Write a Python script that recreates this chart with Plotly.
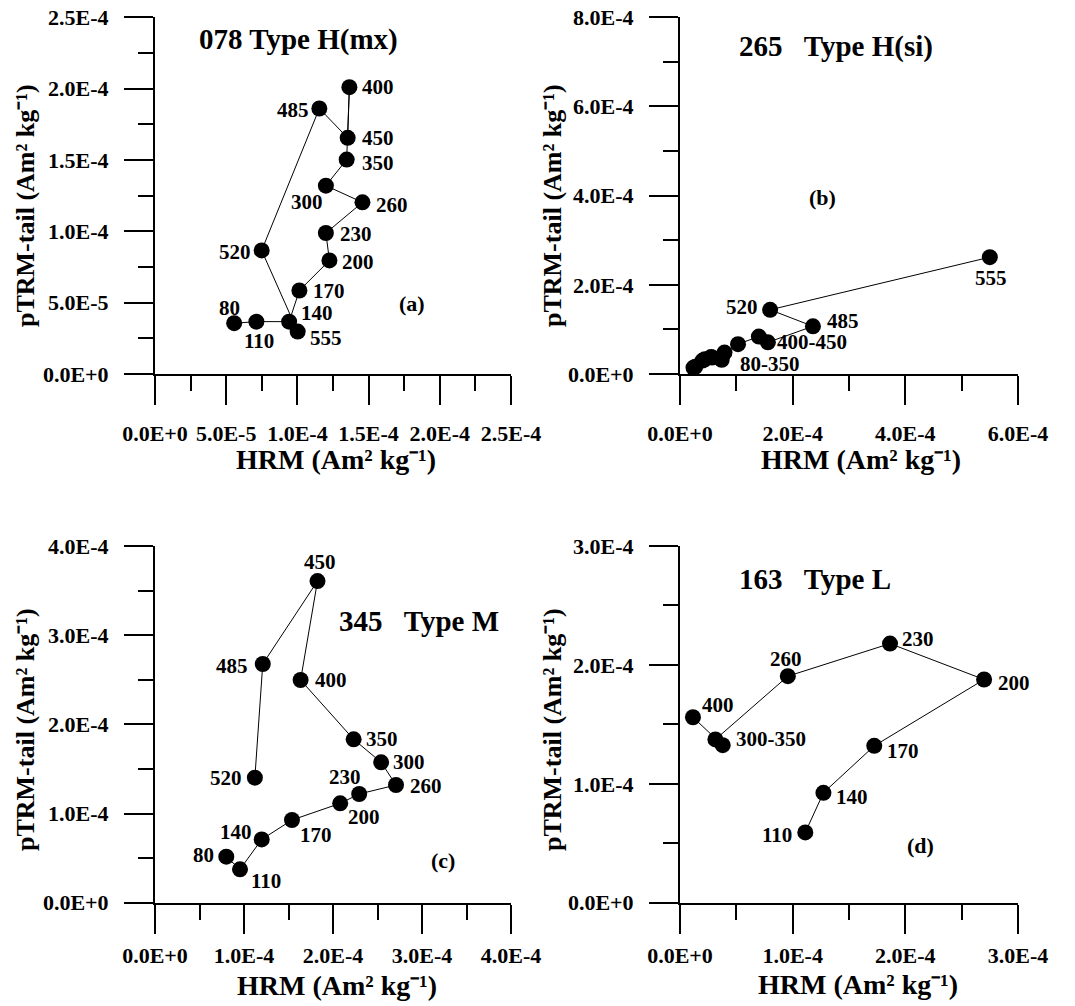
import plotly.graph_objects as go

FONT = "Liberation Serif, Times New Roman, serif"
W, H = 1075, 1006

# ---------------- DATA ----------------
# Panel (a): sample 078, Type H(mx)
a_temps = ["80", "110", "140", "170", "200", "230", "260", "300", "350", "400", "450", "485", "520", "555"]
a_hrm = [55.6e-6, 71.2e-6, 94.2e-6, 101.4e-6, 122.5e-6, 120.0e-6, 145.7e-6, 120.0e-6, 134.6e-6, 136.5e-6, 135.3e-6, 115.4e-6, 74.9e-6, 100.2e-6]
a_ptrm = [35.6e-6, 36.7e-6, 36.7e-6, 58.5e-6, 79.6e-6, 98.8e-6, 120.3e-6, 132.0e-6, 150.3e-6, 201.0e-6, 165.5e-6, 186.1e-6, 86.6e-6, 29.7e-6]
a_label_text = ["80", "110", "140", "170", "200", "230", "260", "300", "350", "400", "450", "485", "520", "555"]
a_label_idx = [0, 1, 2, 3, 4, 5, 6, 7, 8, 9, 10, 11, 12, 13]
a_tickvals = [0, 5e-5, 1e-4, 1.5e-4, 2e-4, 2.5e-4]
a_ticktext = ["0.0E+0", "5.0E-5", "1.0E-4", "1.5E-4", "2.0E-4", "2.5E-4"]

# Panel (b): sample 265, Type H(si)
b_temps = ["80", "110", "140", "170", "200", "230", "260", "300", "350", "400", "450", "485", "520", "555"]
b_hrm = [24e-6, 27e-6, 40e-6, 44e-6, 55e-6, 57e-6, 74e-6, 79e-6, 103e-6, 140e-6, 156e-6, 236e-6, 160e-6, 550e-6]
b_ptrm = [14e-6, 16e-6, 30e-6, 33e-6, 38e-6, 37e-6, 32e-6, 48e-6, 67e-6, 84e-6, 71e-6, 107e-6, 144e-6, 262e-6]
b_label_text = ["80-350", "400-450", "485", "520", "555"]
b_label_idx = [6, 10, 11, 12, 13]
b_xtickvals = [0, 2e-4, 4e-4, 6e-4]
b_xticktext = ["0.0E+0", "2.0E-4", "4.0E-4", "6.0E-4"]
b_ytickvals = [0, 2e-4, 4e-4, 6e-4, 8e-4]
b_yticktext = ["0.0E+0", "2.0E-4", "4.0E-4", "6.0E-4", "8.0E-4"]

# Panel (c): sample 345, Type M
c_temps = ["80", "110", "140", "170", "200", "230", "260", "300", "350", "400", "450", "485", "520"]
c_hrm = [80.1e-6, 95.5e-6, 119.9e-6, 153.9e-6, 208.1e-6, 229.4e-6, 270.8e-6, 254.1e-6, 223.2e-6, 163.6e-6, 182.6e-6, 121.1e-6, 112.2e-6]
c_ptrm = [51.6e-6, 37.4e-6, 71.0e-6, 92.7e-6, 111.4e-6, 121.9e-6, 132.0e-6, 157.4e-6, 183.2e-6, 249.7e-6, 360.7e-6, 267.7e-6, 140.2e-6]
c_label_text = ["80", "110", "140", "170", "200", "230", "260", "300", "350", "400", "450", "485", "520"]
c_label_idx = [0, 1, 2, 3, 4, 5, 6, 7, 8, 9, 10, 11, 12]
c_tickvals = [0, 1e-4, 2e-4, 3e-4, 4e-4]
c_ticktext = ["0.0E+0", "1.0E-4", "2.0E-4", "3.0E-4", "4.0E-4"]

# Panel (d): sample 163, Type L
d_temps = ["110", "140", "170", "200", "230", "260", "300", "350", "400"]
d_hrm = [111.2e-6, 127.3e-6, 172.4e-6, 269.9e-6, 186.4e-6, 95.7e-6, 31.4e-6, 37.9e-6, 11.5e-6]
d_ptrm = [59.1e-6, 92.4e-6, 131.9e-6, 187.7e-6, 217.9e-6, 190.5e-6, 137.3e-6, 132.5e-6, 156.0e-6]
d_label_text = ["110", "140", "170", "200", "230", "260", "300-350", "400"]
d_label_idx = [0, 1, 2, 3, 4, 5, 7, 8]
d_tickvals = [0, 1e-4, 2e-4, 3e-4]
d_ticktext = ["0.0E+0", "1.0E-4", "2.0E-4", "3.0E-4"]

titles = ["078 Type H(mx)", "265\u00a0\u00a0 Type H(si)", "345\u00a0\u00a0 Type M", "163\u00a0\u00a0 Type L"]
panel_tags = ["(a)", "(b)", "(c)", "(d)"]
x_title = "HRM (Am\u00b2 kg\u207b\u00b9)"
y_title = "pTRM-tail (Am\u00b2 kg\u207b\u00b9)"

# ---------------- STYLE / LAYOUT ----------------
# label placement: (anchor, dx px, dy px [down positive])
a_label_pos = [("center", -5, -15), ("center", 3, 19), ("left", 10, -9), ("left", 12, 0), ("left", 11, 2),
               ("left", 12, 1), ("left", 12, 3), ("center", -19, 16), ("left", 13, 3), ("left", 11, 0),
               ("left", 12, 0), ("right", -8, 2), ("right", -9, 2), ("left", 10, 6)]
b_label_pos = [("left", 16, 4), ("left", 7, 0), ("left", 12, -5), ("right", -10, -3), ("center", 1, 21)]
c_label_pos = [("right", -10, -2), ("left", 9, 12), ("right", -8, -7), ("left", 6, 15), ("left", 6, 14),
               ("center", -14, -17), ("left", 12, 1), ("left", 10, 0), ("left", 10, 0), ("left", 12, 0),
               ("center", 2, -19), ("right", -13, 2), ("right", -11, 0)]
d_label_pos = [("right", -11, 3), ("left", 11, 4), ("left", 11, 5), ("left", 12, 3), ("left", 10, -5),
               ("center", -2, -17), ("left", 11, -6), ("left", 7, -12)]

# plot boxes in pixels: (left, right, top, bottom)
boxes = [(155, 511, 17.3, 374), (680, 1018, 17.3, 374), (155, 511, 546, 902.7), (680, 1018, 546, 902.7)]
title_pos = [(298, 40), (836, 47), (419, 621), (815, 579)]
tag_pos = [(412, 303), (822, 197), (443, 860), (920, 845)]
xtitle_pos = [(336, 459), (861, 459), (337, 985), (858, 984)]
ytitle_pos = [(25, 206), (552, 206), (25, 730), (552, 730)]
x_standoff = [10, 10, 3, 3]
y_standoff = [11, 11, 11, 11]

TICK_FS = 22
LBL_FS = 21
TITLE_FS = 29
XT_FS = 28
YT_FS = 26
TAG_FS = 22

panels = [
    (a_hrm, a_ptrm, a_label_text, a_label_idx, a_label_pos, a_tickvals, a_ticktext, a_tickvals, a_ticktext),
    (b_hrm, b_ptrm, b_label_text, b_label_idx, b_label_pos, b_xtickvals, b_xticktext, b_ytickvals, b_yticktext),
    (c_hrm, c_ptrm, c_label_text, c_label_idx, c_label_pos, c_tickvals, c_ticktext, c_tickvals, c_ticktext),
    (d_hrm, d_ptrm, d_label_text, d_label_idx, d_label_pos, d_tickvals, d_ticktext, d_tickvals, d_ticktext),
]


def mids(v):
    return [(v[i] + v[i + 1]) / 2 for i in range(len(v) - 1)]


fig = go.Figure()
annotations = []
layout = dict(
    width=W, height=H, margin=dict(l=0, r=0, t=0, b=0, pad=0, autoexpand=False),
    paper_bgcolor="white", plot_bgcolor="white", showlegend=False,
    font=dict(family=FONT, color="black"),
)

for i, (xs, ys, ltxt, lidx, lpos, xtv, xtt, ytv, ytt) in enumerate(panels):
    n = "" if i == 0 else str(i + 1)
    xa, ya = "x" + n, "y" + n
    L, R, T, B = boxes[i]
    fig.add_trace(go.Scatter(
        x=xs, y=ys, xaxis=xa, yaxis=ya, mode="lines+markers",
        line=dict(color="black", width=1),
        marker=dict(color="black", size=16),
        cliponaxis=False, hoverinfo="skip",
    ))
    common = dict(
        showline=True, linecolor="black", linewidth=2, mirror=False,
        ticks="outside", ticklen=29, tickwidth=2, tickcolor="black",
        showgrid=False, zeroline=False, automargin=False,
        tickfont=dict(family=FONT, size=TICK_FS, color="black", weight="bold"),
        tickmode="array",
    )
    layout["xaxis" + n] = dict(
        common, domain=[L / W, R / W], anchor=ya, range=[0, max(xtv)],
        tickvals=xtv, ticktext=xtt, ticklabelstandoff=x_standoff[i],
        minor=dict(tickvals=mids(xtv), ticks="outside", ticklen=15, tickwidth=2,
                   tickcolor="black", showgrid=False),
    )
    layout["yaxis" + n] = dict(
        common, domain=[1 - B / H, 1 - T / H], anchor=xa, range=[0, max(ytv)],
        tickvals=ytv, ticktext=ytt, ticklabelstandoff=y_standoff[i],
        minor=dict(tickvals=mids(ytv), ticks="outside", ticklen=15, tickwidth=2,
                   tickcolor="black", showgrid=False),
    )
    for t, k, (anc, dx, dy) in zip(ltxt, lidx, lpos):
        annotations.append(dict(
            x=xs[k], y=ys[k], xref=xa, yref=ya, text=t, showarrow=False,
            xanchor=anc, yanchor="middle", xshift=dx, yshift=-dy,
            font=dict(family=FONT, size=LBL_FS, color="black", weight="bold"),
        ))
    tx, ty = title_pos[i]
    annotations.append(dict(x=tx / W, y=1 - ty / H, xref="paper", yref="paper", text=titles[i],
                            showarrow=False, xanchor="center", yanchor="middle",
                            font=dict(family=FONT, size=TITLE_FS, color="black", weight="bold")))
    gx, gy = tag_pos[i]
    annotations.append(dict(x=gx / W, y=1 - gy / H, xref="paper", yref="paper", text=panel_tags[i],
                            showarrow=False, xanchor="center", yanchor="middle",
                            font=dict(family=FONT, size=TAG_FS, color="black", weight="bold")))
    xx, xy = xtitle_pos[i]
    annotations.append(dict(x=xx / W, y=1 - xy / H, xref="paper", yref="paper", text=x_title,
                            showarrow=False, xanchor="center", yanchor="middle",
                            font=dict(family=FONT, size=XT_FS, color="black", weight="bold")))
    yx, yy = ytitle_pos[i]
    annotations.append(dict(x=yx / W, y=1 - yy / H, xref="paper", yref="paper", text=y_title,
                            showarrow=False, xanchor="center", yanchor="middle", textangle=-90,
                            font=dict(family=FONT, size=YT_FS, color="black", weight="bold")))

layout["annotations"] = annotations
fig.update_layout(**layout)
fig.write_html("out.html")
